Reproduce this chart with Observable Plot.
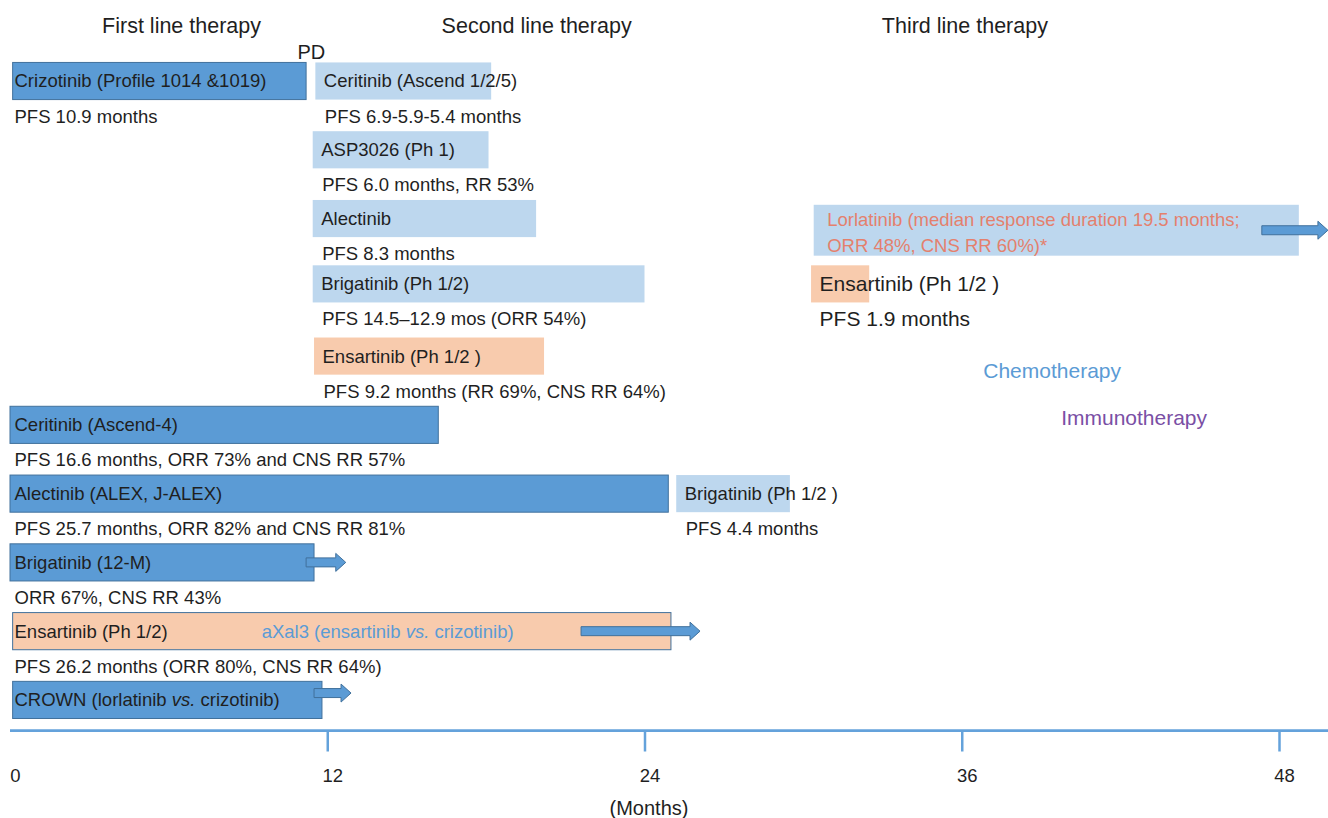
<!DOCTYPE html>
<html>
<head>
<meta charset="utf-8">
<script src="https://cdn.jsdelivr.net/npm/d3@7"></script>
<script src="https://cdn.jsdelivr.net/npm/@observablehq/plot@0.6"></script>
<style>
  body { margin: 0; background: #fff; }
  #chart svg { display: block; }
</style>
</head>
<body>
<div id="chart"></div>
<script>
// ---------- DATA (months on x, row index on y) ----------
const monthTicks = [0, 12, 24, 36, 48];
const lineHeaders = ["First line therapy", "Second line therapy", "Third line therapy"];

const firstLineLabels = [
  "Crizotinib (Profile 1014 &1019)",
  "Ceritinib (Ascend-4)",
  "Alectinib (ALEX, J-ALEX)",
  "Brigatinib (12-M)",
  "Ensartinib (Ph 1/2)",
  "CROWN (lorlatinib vs. crizotinib)"
];
const firstLineRows  = [0, 5, 6, 7, 8, 9];
const firstLineStart = [0.1, 0, 0, 0, 0.1, 0.1];
const firstLineEnd   = [11.2, 16.2, 24.9, 11.5, 25.0, 11.8];
const firstLineDrug  = ["crizotinib", "ceritinib", "alectinib", "brigatinib", "ensartinib", "lorlatinib"];
const firstLineNotes = [
  "PFS 10.9 months",
  "PFS 16.6 months, ORR 73% and CNS RR 57%",
  "PFS 25.7 months, ORR 82% and CNS RR 81%",
  "ORR 67%, CNS RR 43%",
  "PFS 26.2 months (ORR 80%, CNS RR 64%)",
  ""
];

const secondLineLabels = [
  "Ceritinib (Ascend 1/2/5)",
  "ASP3026 (Ph 1)",
  "Alectinib",
  "Brigatinib (Ph 1/2)",
  "Ensartinib (Ph 1/2 )",
  "Brigatinib (Ph 1/2 )"
];
const secondLineRows  = [0, 1, 2, 2.95, 4, 6];
const secondLineStart = [11.55, 11.45, 11.45, 11.45, 11.5, 25.2];
const secondLineEnd   = [18.2, 18.1, 19.9, 24.0, 20.2, 29.5];
const secondLineDrug  = ["ceritinib", "ASP3026", "alectinib", "brigatinib", "ensartinib", "brigatinib"];
const secondLineNotes = [
  "PFS 6.9-5.9-5.4 months",
  "PFS 6.0 months, RR 53%",
  "PFS 8.3 months",
  "PFS 14.5\u201312.9 mos (ORR 54%)",
  "PFS 9.2 months (RR 69%, CNS RR 64%)",
  "PFS 4.4 months"
];

const thirdLineLabels = [
  "Lorlatinib (median response duration 19.5 months;\nORR 48%, CNS RR 60%)*",
  "Ensartinib (Ph 1/2 )"
];
const thirdLineRows  = [2.17, 2.95];
const thirdLineStart = [30.4, 30.3];
const thirdLineEnd   = [48.75, 32.5];
const thirdLineDrug  = ["lorlatinib", "ensartinib"];
const thirdLineNotes = ["", "PFS 1.9 months"];

// ongoing-follow-up arrows
const arrowRows  = [2.17, 7, 8, 8.9];
const arrowStart = [47.35, 11.2, 21.6, 11.5];
const arrowEnd   = [49.85, 12.7, 26.1, 12.9];

const trialNote = "aXal3 (ensartinib vs. crizotinib)";
const legendLabels = ["Chemotherapy", "Immunotherapy"];
const axisTitle = "(Months)";

// ---------- TABLES ----------
const mk = (labels, rows, start, end, drug, notes, line) =>
  labels.map((label, i) => ({
    line, label, row: rows[i], start: start[i], end: end[i], drug: drug[i], note: notes[i],
    kind: drug[i] === "ensartinib" ? "ensartinib" : (line === 1 ? "first" : "later")
  }));
const first  = mk(firstLineLabels, firstLineRows, firstLineStart, firstLineEnd, firstLineDrug, firstLineNotes, 1);
const second = mk(secondLineLabels, secondLineRows, secondLineStart, secondLineEnd, secondLineDrug, secondLineNotes, 2);
const third  = mk(thirdLineLabels, thirdLineRows, thirdLineStart, thirdLineEnd, thirdLineDrug, thirdLineNotes, 3);
const arrows = arrowRows.map((row, i) => ({row, start: arrowStart[i], end: arrowEnd[i]}));

// ---------- STYLE / LAYOUT ----------
const FONT = "'Liberation Sans', Arial, Helvetica, sans-serif";
const INK = "#1f1f1f";
const BLUE = "#5b9bd5";
const HALF = 0.27;       // half bar height in rows
const NOTE = 0.51;       // offset of note below bar (rows)
const AXIS_ROW = 9.44;

function blockArrows(data) {
  return (index, scales) => {
    const g = d3.create("svg:g");
    for (const d of data) {
      const x0 = scales.x(d.start), x1 = scales.x(d.end), y = scales.y(d.row);
      const hl = 10, sh = 4.5, hh = 9, xh = x1 - hl;
      g.append("path")
        .attr("d", `M${x0},${y - sh}H${xh}V${y - hh}L${x1},${y}L${xh},${y + hh}V${y + sh}H${x0}Z`)
        .attr("fill", BLUE).attr("stroke", "#41719c").attr("stroke-width", 1);
    }
    return g.node();
  };
}

const later = [...second, ...third.filter(d => d.drug !== "lorlatinib")];
const lorla = third.filter(d => d.drug === "lorlatinib");
const ens3 = third.filter(d => d.drug === "ensartinib");

const plot = Plot.plot({
  width: 1328,
  height: 818,
  marginTop: 0, marginBottom: 0, marginLeft: 10, marginRight: 49,
  style: {fontFamily: FONT, background: "#fff"},
  x: {domain: [0, 48], axis: null},
  y: {domain: [-1.178, 10.717], range: [0, 818], axis: null},
  color: {domain: ["first", "later", "ensartinib"], range: [BLUE, "#bdd7ee", "#f8cbad"]},
  marks: [
    // headers
    Plot.text(lineHeaders, {x: (d, i) => [6.47, 19.9, 36.1][i], y: -0.81, text: d => d, fontSize: 21.5, fill: INK}),
    Plot.text(["PD"], {x: 11.38, y: -0.42, text: d => d, fontSize: 20, fill: INK}),

    // bars
    Plot.rect(later, {x1: "start", x2: "end", y1: d => d.row - HALF, y2: d => d.row + HALF, fill: "kind"}),
    Plot.rect(lorla, {x1: "start", x2: "end", y1: d => d.row - 0.37, y2: d => d.row + 0.37, fill: "kind"}),
    Plot.rect(first, {x1: "start", x2: "end", y1: d => d.row - HALF, y2: d => d.row + HALF, fill: "kind", stroke: "#41719c", strokeWidth: 1}),

    // arrows
    blockArrows(arrows),

    // bar labels
    Plot.text(first, {x: 0, y: "row", text: "label", textAnchor: "start", dx: 4, fontSize: 18.5, fill: INK}),
    Plot.text(second, {x: "start", y: "row", text: "label", textAnchor: "start", dx: 8, fontSize: 18.5, fill: INK}),
    Plot.text(lorla, {x: "start", y: "row", text: "label", textAnchor: "start", dx: 13, fontSize: 18.5, lineHeight: 1.42, fill: "#e4806d"}),
    Plot.text(ens3, {x: "start", y: "row", text: "label", textAnchor: "start", dx: 8, fontSize: 21, fill: INK}),

    // notes below bars
    Plot.text(first.filter(d => d.note), {x: 0, y: d => d.row + NOTE, text: "note", textAnchor: "start", dx: 4, fontSize: 18.5, fill: INK}),
    Plot.text(second.filter(d => d.note), {x: "start", y: d => d.row + NOTE, text: "note", textAnchor: "start", dx: 9, fontSize: 18.5, fill: INK}),
    Plot.text(ens3, {x: "start", y: d => d.row + NOTE, text: "note", textAnchor: "start", dx: 8, fontSize: 21, fill: INK}),

    // in-bar trial note
    Plot.text([trialNote], {x: 9.5, y: 8, text: d => d, textAnchor: "start", fontSize: 18.5, fill: BLUE}),

    // side labels
    Plot.text([legendLabels[0]], {x: 39.4, y: 4.22, text: d => d, fontSize: 21, fill: BLUE}),
    Plot.text([legendLabels[1]], {x: 42.5, y: 4.9, text: d => d, fontSize: 21, fill: "#7a4fa5"}),

    // axis
    Plot.ruleY([AXIS_ROW], {x1: 0, x2: 50, stroke: "#64a2db", strokeWidth: 2.7}),
    Plot.ruleX(monthTicks.filter(t => t > 0), {x: d => d, y1: AXIS_ROW, y2: AXIS_ROW + 0.31, stroke: "#64a2db", strokeWidth: 2.5}),
    Plot.text(monthTicks, {x: d => d, y: 10.1, text: d => String(d), dx: 5, fontSize: 18.5, fill: INK}),
    Plot.text([axisTitle], {x: 24.15, y: 10.57, text: d => d, fontSize: 20, fill: INK})
  ]
});

// italic "vs." inside labels
d3.select(plot).selectAll("text").each(function () {
  const el = d3.select(this);
  if (el.selectAll("tspan").size() > 0) return;
  const t = el.text();
  if (t.includes(" vs. ")) {
    const [a, b] = t.split(" vs. ");
    el.text(null);
    el.append("tspan").text(a + " ");
    el.append("tspan").attr("font-style", "italic").text("vs.");
    el.append("tspan").text(" " + b);
  }
});

document.getElementById("chart").appendChild(plot);
</script>
</body>
</html>
